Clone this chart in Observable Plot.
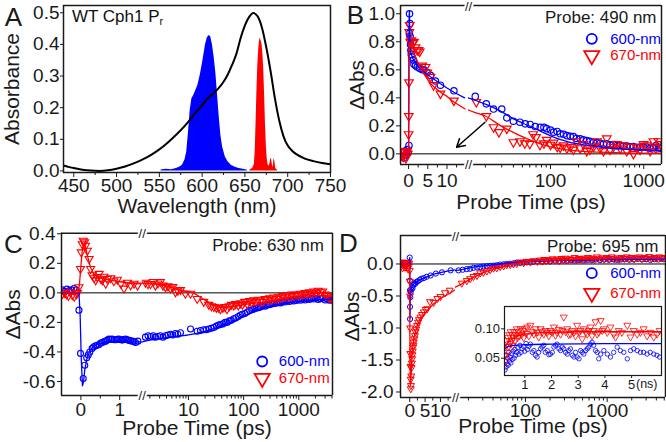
<!DOCTYPE html>
<html>
<head>
<meta charset="utf-8">
<script src="https://cdn.jsdelivr.net/npm/d3@7"></script>
<script src="https://cdn.jsdelivr.net/npm/@observablehq/plot@0.6"></script>
<style>
html,body{margin:0;padding:0;background:#fff;}
#root{position:relative;width:666px;height:442px;overflow:hidden;background:#fff;font-family:"Liberation Sans",Arial,Helvetica,sans-serif;color:#111;}
#root svg{position:absolute;}
.note{position:absolute;white-space:nowrap;line-height:17px;font-size:17px;color:#111;}
.note sub{font-size:11px;vertical-align:-3px;line-height:0;}
</style>
</head>
<body>
<div id="root"></div>
<script>
// ================= DATA =================
// Panel A: absorption spectrum of WT Cph1 Pr and the two pump spectra  [nm, value]
const absorbanceSpectrum = [[438,0.017],[445,0.012],[450,0.009],[460,0.004],[470,0.001],[480,0.0],[490,0.002],[500,0.007],[510,0.014],[520,0.024],[530,0.036],[540,0.05],[550,0.068],[560,0.09],[570,0.115],[580,0.143],[590,0.176],[600,0.208],[605,0.225],[610,0.238],[615,0.25],[620,0.264],[625,0.282],[630,0.305],[635,0.335],[640,0.37],[645,0.42],[650,0.46],[655,0.487],[660,0.499],[665,0.488],[670,0.452],[675,0.39],[680,0.315],[685,0.23],[690,0.16],[695,0.11],[700,0.08],[705,0.064],[710,0.053],[720,0.039],[730,0.031],[740,0.025],[750,0.021]];
const pump600Spectrum = [[552,0.003],[558,0.005],[564,0.004],[570,0.008],[574,0.012],[577,0.018],[580,0.035],[582,0.06],[584,0.12],[586,0.19],[588,0.228],[590,0.238],[592,0.25],[595,0.27],[598,0.305],[601,0.35],[604,0.4],[606,0.42],[608,0.428],[610,0.424],[612,0.4],[614,0.36],[616,0.31],[618,0.24],[620,0.17],[622,0.11],[624,0.075],[627,0.045],[630,0.03],[634,0.018],[638,0.012],[643,0.008],[648,0.005],[653,0.002]];
const pump670Spectrum = [[656,0.004],[659,0.008],[661,0.02],[662,0.06],[663,0.15],[664,0.25],[665,0.33],[666,0.38],[667,0.41],[668,0.42],[669,0.41],[670,0.4],[671,0.37],[672,0.32],[673,0.24],[674,0.15],[675,0.08],[676,0.04],[677,0.02],[678,0.015],[679,0.02],[680,0.035],[681,0.04],[682,0.02],[683,0.01],[684,0.04],[685,0.03],[686,0.008],[688,0.002]];
const aXTicks = [450,500,550,600,650,700,750];
const aYTicks = [0,0.1,0.2,0.3,0.4,0.5];

// Panel B: probe 490 nm  [ps, dAbs]
const bBlue600Early = [[-1.8,-0.02],[-1.5,0.01],[-1.2,-0.03],[-1.0,0.02],[-0.7,-0.01],[-0.5,0.0],[-0.3,0.03],[-0.1,0.01],[0.1,0.06],[0.2,0.86],[0.25,1.0],[0.35,0.93],[0.4,0.84],[0.5,0.78],[0.6,0.74],[0.7,0.71],[0.95,0.69],[1.2,0.67],[1.4,0.64],[1.8,0.63],[2.25,0.62],[2.9,0.61],[3.55,0.6],[4.0,0.6],[4.85,0.58],[5.7,0.56],[7.0,0.52],[8.3,0.49],[11.8,0.45]];
const bRed670Early = [[-1.9,-0.01],[-1.6,0.02],[-1.3,-0.02],[-1.0,0.01],[-0.7,-0.03],[-0.4,0.02],[-0.2,0.0],[0.0,0.14],[0.05,0.27],[0.1,0.51],[0.2,0.87],[0.3,0.92],[0.45,0.8],[0.7,0.81],[1.0,0.79],[1.4,0.8],[1.8,0.76],[2.25,0.74],[2.6,0.74],[2.9,0.73],[3.55,0.63],[4.4,0.62],[4.85,0.58],[5.7,0.55],[6.5,0.49],[8.3,0.43],[11.8,0.38]];
const bBlueFitEarly = [[-2.1,0],[0,0],[0.05,0.5],[0.15,0.98],[0.22,1.02],[0.3,0.88],[0.4,0.77],[0.6,0.72],[1.0,0.69],[1.4,0.667],[2,0.64],[3.1,0.607],[4,0.585],[5.7,0.55],[7,0.525],[8.3,0.5],[10,0.47],[11.8,0.44],[14.6,0.4]];
const bRedFitEarly = [[-2.1,0],[0.02,0],[0.07,0.3],[0.15,0.75],[0.25,0.8],[0.5,0.77],[1,0.73],[1.4,0.714],[2,0.68],[3.1,0.607],[4,0.57],[5.7,0.5],[7,0.47],[8.3,0.44],[10,0.41],[11.8,0.37],[14.7,0.32]];
const bBlue600Late = [[15.6,0.41],[20.5,0.357],[24.5,0.32],[30,0.32],[34,0.257],[40,0.233],[47,0.226],[53.5,0.214],[60.5,0.21],[68.5,0.195],[77.6,0.19],[85,0.19],[91,0.18],[100,0.17],[108,0.155],[118,0.16],[127,0.143],[138,0.14],[150,0.13],[163,0.125],[176,0.124],[190,0.11],[208,0.107],[225,0.1],[245,0.095],[265,0.09],[289,0.083],[315,0.08],[341,0.076],[370,0.07],[401,0.071],[435,0.065],[473,0.067],[515,0.06],[558,0.06],[605,0.055],[657,0.055],[715,0.05],[776,0.052],[845,0.045],[914,0.048],[995,0.05],[1077,0.048],[1170,0.04],[1270,0.045],[1350,0.06],[1437,0.045],[1500,0.04]];
const bRed670Late = [[16,0.37],[20.5,0.27],[24.5,0.19],[28,0.155],[34,0.18],[40,0.083],[47,0.09],[53,0.075],[60,0.072],[65,0.14],[70,0.12],[77,0.065],[85,0.075],[91,0.1],[100,0.065],[108,0.08],[118,0.05],[127,0.045],[138,0.06],[150,0.04],[163,0.05],[176,0.03],[190,0.09],[208,0.04],[225,0.07],[245,0.02],[265,0.03],[289,0.05],[315,0.09],[341,0.04],[370,0.02],[401,0.11],[435,0.03],[473,0.05],[515,0.07],[558,0.04],[605,0.06],[657,0.02],[715,0.05],[776,0.0],[845,0.05],[914,0.03],[995,0.07],[1077,0.06],[1170,0.02],[1270,0.09],[1350,0.04],[1437,0.09],[1500,0.07]];
const bBlueFitLate = [[13,0.4],[15.1,0.386],[20,0.355],[24.5,0.33],[30,0.3],[40,0.25],[52,0.215],[68.5,0.18],[85,0.15],[108,0.12],[140,0.095],[176,0.076],[250,0.06],[341,0.048],[500,0.038],[776,0.031],[1100,0.027],[1440,0.024],[1560,0.024]];
const bRedFitLate = [[13,0.315],[15.1,0.298],[20,0.27],[29.4,0.2],[38,0.16],[47,0.13],[60,0.1],[77.6,0.071],[100,0.05],[150,0.029],[220,0.018],[341,0.012],[600,0.007],[1000,0.005],[1560,0.005]];
const bArrow = [[19.9,0.226,12.5,0.047]];
const bYTicks = [0,0.2,0.4,0.6,0.8,1.0];
const bEarlyTicks = [0,5,10];
const bLateTicks = [100,1000];

// Panel C: probe 630 nm
const cBlue600Early = [[-0.48,0.02],[-0.42,0.01],[-0.36,0.025],[-0.3,0.015],[-0.24,0.02],[-0.18,0.03],[-0.12,0.02],[-0.05,-0.117],[-0.01,-0.41],[0.06,-0.58],[0.1,-0.49],[0.15,-0.44],[0.19,-0.42],[0.23,-0.4],[0.29,-0.376],[0.33,-0.365],[0.38,-0.358],[0.42,-0.355],[0.47,-0.35],[0.51,-0.34],[0.55,-0.336],[0.6,-0.33],[0.64,-0.327],[0.68,-0.32],[0.72,-0.313],[0.77,-0.315],[0.81,-0.313],[0.86,-0.318],[0.9,-0.318],[0.94,-0.315],[0.98,-0.313],[1.03,-0.318],[1.07,-0.32],[1.11,-0.316],[1.15,-0.313],[1.2,-0.318],[1.24,-0.322],[1.28,-0.325],[1.33,-0.327],[1.37,-0.33],[1.41,-0.336],[1.47,-0.327]];
const cRed670Early = [[-0.47,-0.005],[-0.42,0.0],[-0.37,-0.01],[-0.32,-0.02],[-0.27,0.005],[-0.22,-0.015],[-0.17,-0.025],[-0.12,-0.01],[-0.09,0.0],[-0.05,0.039],[-0.01,0.163],[0.01,0.275],[0.035,0.33],[0.06,0.354],[0.095,0.343],[0.12,0.32],[0.165,0.286],[0.21,0.23],[0.25,0.163],[0.29,0.12],[0.34,0.1],[0.38,0.086],[0.42,0.108],[0.47,0.13],[0.51,0.097],[0.55,0.086],[0.59,0.11],[0.64,0.063],[0.68,0.095],[0.77,0.1],[0.85,0.08],[0.94,0.09],[1.03,0.063],[1.11,0.03],[1.2,0.07],[1.28,0.052],[1.37,0.063],[1.46,0.05]];
const cBlueFitEarly = [[-0.5,0],[-0.05,0],[-0.02,-0.15],[0.01,-0.45],[0.04,-0.63],[0.07,-0.6],[0.1,-0.52],[0.15,-0.45],[0.22,-0.4],[0.3,-0.37],[0.45,-0.345],[0.7,-0.33],[1.0,-0.325],[1.3,-0.33],[1.6,-0.333]];
const cRedFitEarly = [[-0.5,0],[-0.08,0],[-0.04,0.05],[0,0.18],[0.04,0.3],[0.08,0.335],[0.12,0.31],[0.18,0.24],[0.25,0.17],[0.35,0.12],[0.5,0.1],[0.7,0.09],[1.0,0.075],[1.3,0.065],[1.6,0.06]];
const cBlue600Late = [[1.66,-0.3],[1.85,-0.29],[2.05,-0.295],[2.3,-0.29],[2.52,-0.3],[2.8,-0.295],[3.1,-0.29],[3.45,-0.3],[3.83,-0.29],[4.25,-0.285],[4.72,-0.28],[5.2,-0.285],[5.8,-0.275],[6.4,-0.28],[7.16,-0.27],[10.9,-0.245],[14.4,-0.26],[16.5,-0.255],[18.9,-0.25],[21,-0.25],[23.3,-0.245],[26,-0.24],[28.8,-0.235],[32,-0.225],[35,-0.218],[38,-0.215],[42,-0.21],[46,-0.2],[50,-0.2],[55,-0.19],[60,-0.185],[66,-0.175],[72,-0.17],[80,-0.16],[87.6,-0.15],[95,-0.145],[105,-0.14],[116,-0.13],[128,-0.12],[140,-0.115],[153,-0.11],[168,-0.105],[185,-0.1],[202,-0.095],[222,-0.088],[245,-0.09],[267,-0.083],[295,-0.08],[325,-0.075],[353,-0.072],[390,-0.07],[430,-0.065],[466,-0.068],[510,-0.06],[560,-0.062],[616,-0.055],[680,-0.058],[750,-0.05],[813,-0.055],[900,-0.052],[980,-0.045],[1073,-0.05],[1180,-0.043],[1300,-0.048],[1418,-0.04],[1560,-0.045],[1700,-0.038],[1873,-0.042],[2050,-0.036],[2250,-0.045],[2472,-0.04],[2700,-0.035],[3000,-0.048],[3270,-0.042],[3550,-0.05],[3760,-0.045],[4000,-0.05]];
const cRed670Late = [[1.66,0.07],[1.85,0.06],[2.05,0.06],[2.3,0.075],[2.52,0.05],[2.8,0.065],[3.1,0.075],[3.45,0.05],[3.83,0.04],[4.25,0.045],[4.72,0.03],[5.2,0.04],[5.8,0.005],[6.4,0.015],[7.16,0.02],[8.8,-0.005],[10.9,-0.005],[14.4,-0.04],[18.9,-0.06],[23.3,-0.08],[26,-0.09],[28.8,-0.095],[32,-0.1],[35,-0.1],[38,-0.11],[42,-0.1],[46,-0.095],[50,-0.11],[55,-0.09],[60,-0.08],[66,-0.085],[72,-0.075],[80,-0.085],[87.6,-0.07],[95,-0.08],[105,-0.06],[116,-0.075],[128,-0.055],[140,-0.065],[153,-0.05],[168,-0.06],[185,-0.045],[202,-0.05],[222,-0.06],[245,-0.04],[267,-0.045],[295,-0.035],[325,-0.05],[353,-0.03],[390,-0.04],[430,-0.025],[466,-0.035],[510,-0.02],[560,-0.03],[616,-0.015],[680,-0.025],[750,-0.01],[813,-0.02],[900,-0.01],[980,-0.015],[1073,-0.005],[1180,-0.01],[1300,0.0],[1418,-0.01],[1560,0.005],[1700,-0.005],[1873,0.01],[2050,0.0],[2250,0.015],[2472,0.005],[2700,0.01],[3000,-0.01],[3270,-0.02],[3550,-0.03],[3760,-0.035],[4000,-0.04]];
const cBlueFitLate = [[1.4,-0.333],[2,-0.32],[3,-0.31],[5,-0.3],[10,-0.285],[20,-0.26],[30,-0.24],[50,-0.21],[66,-0.19],[100,-0.16],[153,-0.125],[267,-0.095],[466,-0.075],[1073,-0.056],[2000,-0.048],[4100,-0.043]];
const cRedFitLate = [[1.4,0.066],[3,0.055],[5,0.035],[8,0.015],[12,0.0],[20,-0.05],[30,-0.085],[38,-0.1],[60,-0.095],[100,-0.08],[267,-0.06],[600,-0.035],[1073,-0.02],[1900,-0.005],[2500,0.0],[4100,-0.01]];
const cYTicks = [-0.6,-0.4,-0.2,0,0.2,0.4];
const cEarlyTicks = [0,1];
const cLateTicks = [10,100,1000];

// Panel D: probe 695 nm
const dBlue600Early = [[-2.8,0.01],[-2.2,-0.02],[-1.6,0.01],[-1.0,-0.01],[-0.4,0.02],[0.0,0.1],[0.05,-0.26],[0.08,-0.41],[0.1,-0.67],[0.12,-0.86],[0.2,-0.52],[0.3,-0.44],[0.5,-0.4],[0.7,-0.36],[0.9,-0.38],[1.2,-0.33],[1.5,-0.3],[1.8,-0.31],[2.2,-0.28],[2.6,-0.27],[3.2,-0.25],[3.8,-0.23],[4.6,-0.22],[5.5,-0.2],[6.8,-0.18],[8.5,-0.15],[10.5,-0.13],[13.3,-0.1]];
const dRed670Early = [[-2.9,0.02],[-2.7,-0.03],[-2.5,0.0],[-2.3,-0.06],[-2.1,0.03],[-1.9,-0.02],[-1.7,0.01],[-1.5,-0.05],[-1.3,0.02],[-1.1,-0.03],[-0.9,0.0],[-0.7,-0.07],[-0.5,0.02],[-0.3,-0.04],[-0.15,0.01],[0.0,-0.1],[0.05,-0.27],[0.1,-0.5],[0.15,-1.0],[0.2,-1.4],[0.25,-1.6],[0.3,-1.8],[0.35,-1.95],[0.4,-1.9],[0.5,-1.75],[0.6,-1.62],[0.7,-1.55],[0.8,-1.48],[0.9,-1.42],[1.0,-1.36],[1.1,-1.3],[1.2,-1.27],[1.3,-1.22],[1.5,-1.17],[1.7,-1.12],[1.9,-1.06],[2.1,-1.02],[2.4,-0.96],[2.7,-0.91],[3.0,-0.87],[3.5,-0.83],[4.0,-0.79],[4.6,-0.75],[5.2,-0.71],[5.7,-0.7],[6.6,-0.59],[7.8,-0.6],[9,-0.54],[10,-0.51],[11.5,-0.45],[13,-0.41]];
const dBlueFitEarly = [[-3,0],[-0.05,0],[0.0,0.1],[0.06,-0.5],[0.1,-0.85],[0.15,-0.6],[0.25,-0.45],[0.5,-0.38],[0.8,-0.35],[1.5,-0.3],[2.4,-0.27],[3.5,-0.24],[5.7,-0.2],[7.8,-0.16],[10,-0.135],[12.2,-0.11],[15,-0.09]];
const dRedFitEarly = [[-3,0],[-0.05,0],[0.0,-0.5],[0.1,-1.5],[0.2,-1.9],[0.3,-1.85],[0.5,-1.69],[0.77,-1.38],[1.3,-1.17],[2.4,-0.96],[3.5,-0.85],[5.7,-0.73],[7.8,-0.62],[10,-0.54],[12.2,-0.48],[15,-0.4]];
const dBlue600Late = [[15.1,-0.1],[17,-0.09],[19.1,-0.08],[21,-0.075],[23.1,-0.06],[25.5,-0.055],[27.9,-0.05],[30.5,-0.04],[33.6,-0.035],[37,-0.03],[40.6,-0.025],[44.5,-0.02],[49,-0.01],[54,-0.005],[59,0.0],[65,0.005],[71.3,0.01],[78,0.02],[86,0.015],[95,0.025],[104,0.03],[115,0.03],[125,0.035],[140,0.04],[160,0.035],[180,0.045],[200,0.04],[230,0.05],[260,0.045],[290,0.055],[320,0.05],[360,0.06],[400,0.055],[450,0.06],[513,0.055],[580,0.065],[650,0.06],[730,0.07],[820,0.06],[920,0.07],[1050,0.065],[1180,0.075],[1313,0.065],[1480,0.07],[1660,0.075],[1870,0.065],[2100,0.07],[2370,0.08],[2660,0.07],[3000,0.075],[3360,0.065],[3780,0.075],[4250,0.07],[4880,0.075]];
const dRed670Late = [[16.6,-0.3],[19.1,-0.26],[21,-0.23],[23.1,-0.195],[25.5,-0.18],[27.9,-0.14],[30.5,-0.13],[33.6,-0.11],[37,-0.09],[40.6,-0.065],[44.5,-0.06],[49,-0.04],[54,-0.03],[59,-0.013],[65,-0.01],[71.3,0.0],[78,0.005],[86,0.03],[95,0.02],[104,0.04],[115,0.03],[125,0.05],[140,0.04],[150,0.06],[160,0.045],[170,0.07],[180,0.05],[190,0.065],[200,0.055],[215,0.08],[230,0.06],[245,0.075],[260,0.05],[275,0.085],[290,0.065],[310,0.09],[330,0.06],[350,0.08],[375,0.07],[400,0.1],[425,0.065],[450,0.085],[480,0.075],[513,0.09],[545,0.07],[580,0.1],[620,0.08],[660,0.09],[700,0.07],[750,0.11],[800,0.08],[860,0.095],[920,0.075],[990,0.1],[1060,0.085],[1140,0.11],[1220,0.08],[1313,0.095],[1400,0.075],[1500,0.1],[1620,0.085],[1750,0.11],[1870,0.09],[2000,0.1],[2150,0.08],[2300,0.095],[2470,0.11],[2660,0.085],[2850,0.1],[3050,0.09],[3280,0.115],[3500,0.085],[3780,0.1],[4050,0.09],[4350,0.11],[4650,0.095],[5000,0.1]];
const dBlueFitLate = [[13,-0.105],[15.1,-0.095],[19.1,-0.07],[23.1,-0.05],[27.9,-0.035],[33.6,-0.023],[40.6,-0.012],[49,0.0],[59,0.013],[71.3,0.02],[86,0.028],[125,0.04],[200,0.05],[320,0.055],[513,0.06],[820,0.065],[1313,0.07],[2100,0.072],[3360,0.074],[5300,0.075]];
const dRedFitLate = [[13,-0.38],[16.6,-0.31],[23.1,-0.21],[33.6,-0.117],[49,-0.055],[71.3,0.0],[104,0.035],[150,0.055],[320,0.065],[513,0.075],[820,0.08],[1313,0.085],[2100,0.088],[3360,0.09],[5300,0.09]];
const dYTicks = [-2.0,-1.5,-1.0,-0.5,0.0];
const dEarlyTicks = [0,5,10];
const dLateTicks = [100,1000];

// Panel D inset  [ns, dAbs]
const insetRed670 = [[0.26,0.055],[0.28,0.07],[0.3,0.045],[0.32,0.08],[0.35,0.06],[0.37,0.085],[0.4,0.07],[0.42,0.09],[0.45,0.075],[0.47,0.095],[0.5,0.08],[0.53,0.09],[0.55,0.072],[0.58,0.085],[0.6,0.095],[0.63,0.08],[0.66,0.09],[0.7,0.1],[0.73,0.085],[0.76,0.095],[0.8,0.088],[0.84,0.1],[0.88,0.09],[0.92,0.097],[0.96,0.085],[1.0,0.1],[1.05,0.092],[1.09,0.103],[1.15,0.088],[1.21,0.106],[1.28,0.095],[1.34,0.091],[1.4,0.1],[1.46,0.094],[1.52,0.086],[1.59,0.1],[1.65,0.095],[1.71,0.091],[1.77,0.097],[1.84,0.094],[1.9,0.088],[1.96,0.097],[2.03,0.094],[2.09,0.103],[2.15,0.089],[2.21,0.094],[2.28,0.099],[2.34,0.091],[2.4,0.097],[2.46,0.12],[2.53,0.095],[2.59,0.1],[2.65,0.09],[2.71,0.091],[2.78,0.097],[2.84,0.094],[2.9,0.088],[2.96,0.106],[3.03,0.094],[3.09,0.097],[3.15,0.083],[3.21,0.1],[3.28,0.094],[3.34,0.091],[3.4,0.097],[3.46,0.103],[3.52,0.088],[3.58,0.097],[3.65,0.112],[3.71,0.091],[3.77,0.094],[3.84,0.114],[3.9,0.097],[3.96,0.1],[4.09,0.094],[4.21,0.103],[4.33,0.091],[4.4,0.086],[4.52,0.097],[4.64,0.094],[4.84,0.106],[4.96,0.086],[5.08,0.097],[5.21,0.091],[5.33,0.094],[5.45,0.1],[5.58,0.088],[5.7,0.094],[5.83,0.086],[5.95,0.091],[6.05,0.097]];
const insetBlue600 = [[0.26,0.03],[0.28,0.045],[0.3,0.035],[0.32,0.055],[0.34,0.04],[0.36,0.05],[0.38,0.038],[0.4,0.06],[0.43,0.045],[0.45,0.052],[0.48,0.042],[0.5,0.058],[0.53,0.048],[0.56,0.062],[0.6,0.05],[0.63,0.065],[0.66,0.055],[0.7,0.06],[0.74,0.068],[0.78,0.057],[0.82,0.072],[0.86,0.06],[0.9,0.066],[0.95,0.07],[1.0,0.062],[1.05,0.075],[1.1,0.065],[1.15,0.07],[1.21,0.074],[1.28,0.06],[1.34,0.063],[1.4,0.055],[1.46,0.052],[1.52,0.06],[1.59,0.066],[1.65,0.069],[1.71,0.072],[1.77,0.06],[1.84,0.063],[1.9,0.056],[1.96,0.057],[2.03,0.06],[2.09,0.069],[2.15,0.072],[2.21,0.074],[2.28,0.066],[2.34,0.063],[2.4,0.069],[2.46,0.066],[2.53,0.06],[2.59,0.057],[2.65,0.063],[2.71,0.066],[2.78,0.055],[2.84,0.052],[2.9,0.06],[2.96,0.052],[3.03,0.049],[3.09,0.063],[3.15,0.06],[3.21,0.057],[3.28,0.063],[3.34,0.066],[3.4,0.069],[3.46,0.074],[3.52,0.077],[3.58,0.072],[3.65,0.063],[3.71,0.06],[3.77,0.049],[3.84,0.057],[3.96,0.063],[4.09,0.057],[4.21,0.052],[4.33,0.06],[4.46,0.069],[4.58,0.063],[4.71,0.06],[4.84,0.049],[4.96,0.063],[5.08,0.066],[5.21,0.063],[5.33,0.06],[5.45,0.06],[5.58,0.057],[5.7,0.06],[5.83,0.057],[5.95,0.055],[6.05,0.052]];
const insetRedFit = [[0.24,0.068],[0.4,0.078],[0.6,0.085],[0.8,0.089],[1.0,0.091],[1.5,0.093],[2,0.094],[3,0.095],[4,0.095],[5,0.095],[6.12,0.095]];
const insetBlueFit = [[0.24,0.066],[0.4,0.07],[0.6,0.072],[1.0,0.073],[2,0.074],[4,0.075],[6.12,0.075]];
const insetXTicks = [1,2,3,4,5];
const insetYTicks = [0.05,0.10];

// ================= DRAWING =================
const FONT = '"Liberation Sans", Arial, Helvetica, sans-serif';
const BLUE = "#0000ff", RED = "#ff0000", INK = "#1a1a1a";
const X = d => d[0], Y = d => d[1], T = d => d;
const root = document.getElementById("root");
const W = 333, H = 221;
const MID = {textAnchor: "middle", lineAnchor: "middle"};

function baseStyle(fs = "19px") {
  return {background: "transparent", overflow: "visible", fontFamily: FONT, fontSize: fs, color: INK};
}
function place(svg, left, top) {
  svg.style.position = "absolute";
  svg.style.left = left + "px";
  svg.style.top = top + "px";
  root.appendChild(svg);
}
function logMinor(lo, hi) {
  const out = [];
  for (let e = 0; e <= 4; e++) for (let m = 2; m <= 9; m++) {
    const v = m * Math.pow(10, e);
    if (v > lo && v < hi) out.push(v);
  }
  return out;
}
function seriesMarks(s, r, sw) {
  return [
    Plot.dot(s.blue, {x: X, y: Y, r: r, stroke: BLUE, strokeWidth: sw, fill: "none", clip: true}),
    Plot.dot(s.red, {x: X, y: Y, r: r, symbol: "triangle", rotate: 180, stroke: RED, strokeWidth: sw, fill: "none", clip: true}),
    Plot.line(s.blueFit, {x: X, y: Y, stroke: BLUE, strokeWidth: 1.3, curve: s.curve, clip: true}),
    Plot.line(s.redFit, {x: X, y: Y, stroke: RED, strokeWidth: 1.3, curve: s.curve, clip: true})
  ];
}
function legendMarks(anchor, cx, cy1, cy2, tx) {
  return [
    Plot.dot([0], {frameAnchor: anchor, dx: cx, dy: cy1, r: 5, stroke: BLUE, strokeWidth: 1.8, fill: "none"}),
    Plot.dot([0], {frameAnchor: anchor, dx: cx, dy: cy2, r: 5.6, symbol: "triangle", rotate: 180, stroke: RED, strokeWidth: 1.8, fill: "none"}),
    Plot.text(["600-nm"], {text: T, frameAnchor: anchor, dx: tx, dy: cy1, textAnchor: "start", lineAnchor: "middle", fill: BLUE, fontSize: 15}),
    Plot.text(["670-nm"], {text: T, frameAnchor: anchor, dx: tx, dy: cy2, textAnchor: "start", lineAnchor: "middle", fill: RED, fontSize: 15})
  ];
}

// ---------- Panel A ----------
{
  const fr = {l: 63, r: 330, t: 5, b: 172};
  const A = Plot.plot({
    width: W, height: H,
    marginLeft: fr.l, marginRight: W - fr.r, marginTop: fr.t, marginBottom: H - fr.b,
    style: baseStyle(),
    x: {domain: [438, 750], label: null},
    y: {domain: [-0.005, 0.523], label: null},
    marks: [
      Plot.areaY(pump600Spectrum, {x: X, y: Y, fill: BLUE, clip: true}),
      Plot.areaY(pump670Spectrum, {x: X, y: Y, fill: RED, clip: true}),
      Plot.line(absorbanceSpectrum, {x: X, y: Y, stroke: "#000", strokeWidth: 2, curve: "monotone-x", clip: true}),
      Plot.axisX({ticks: aXTicks.map(v => v + 25).filter(v => v < 750), tickSize: 3, tickFormat: () => "", label: null}),
      Plot.axisX({ticks: aXTicks, tickSize: 5, tickPadding: 1, tickFormat: d => String(d), label: null}),
      Plot.axisY({ticks: aYTicks, tickSize: 3, tickPadding: 1, tickFormat: d => d.toFixed(1), label: null}),
      Plot.frame({stroke: INK, strokeWidth: 1.5}),
      Plot.text(["Absorbance"], {text: T, frameAnchor: "left", rotate: -90, dx: -51, fontSize: 21, ...MID}),
      Plot.text(["Wavelength (nm)"], {text: T, frameAnchor: "bottom", dy: 34, fontSize: 21, ...MID}),
      Plot.text(["A"], {text: T, frameAnchor: "top-left", dx: -50, dy: 12.5, fontSize: 26, ...MID})
    ]
  });
  place(A, 0, 0);
  const note = document.createElement("div");
  note.className = "note";
  note.style.left = "72px"; note.style.top = "8px";
  note.innerHTML = "WT Cph1 P<sub>r</sub>";
  root.appendChild(note);
}

// ---------- broken-axis panels ----------
function brokenPanel(p) {
  const ml = p.frame.l - p.box.x, mr = p.box.x + W - p.frame.r;
  const mt = p.frame.t - p.box.y, mb = p.box.y + H - p.frame.b;
  const bx = p.breakX - p.box.x;
  const frameStroke = {stroke: INK, strokeWidth: 1.5};
  const right = Plot.plot({
    width: W, height: H, marginLeft: bx, marginRight: mr, marginTop: mt, marginBottom: mb,
    style: baseStyle(),
    x: {type: "log", domain: p.logDomain, label: null},
    y: {domain: p.yDomain, label: null, axis: null},
    marks: [
      Plot.ruleY([0], {stroke: "#000", strokeWidth: 1}),
      ...seriesMarks(p.late, p.r, p.sw),
      Plot.axisX({ticks: logMinor(p.logDomain[0], p.logDomain[1]).filter(v => !p.logTicks.includes(v)), tickSize: 3.5, tickFormat: () => "", label: null}),
      Plot.axisX({ticks: p.logTicks, tickSize: 5, tickPadding: p.xPad, tickFormat: d => String(d), label: null}),
      Plot.ruleY(p.yDomain, frameStroke),
      Plot.ruleX([p.logDomain[1]], frameStroke)
    ]
  });
  const left = Plot.plot({
    width: W, height: H, marginLeft: ml, marginRight: W - bx, marginTop: mt, marginBottom: mb,
    style: baseStyle(),
    x: {domain: p.linDomain, label: null},
    y: {domain: p.yDomain, label: null},
    marks: [
      Plot.ruleY([0], {stroke: "#000", strokeWidth: 1}),
      ...seriesMarks(p.early, p.r, p.sw),
      Plot.axisX({ticks: p.linMinor, tickSize: 3.5, tickFormat: () => "", label: null}),
      Plot.axisX({ticks: p.linTicks, tickSize: 5, tickPadding: p.xPad, tickFormat: d => String(d), label: null}),
      Plot.axisY({ticks: p.yTicks, tickSize: 4, tickPadding: p.yPad, tickFormat: d => d.toFixed(1), label: null}),
      Plot.ruleY(p.yDomain, frameStroke),
      Plot.ruleX([p.linDomain[0]], frameStroke),
      ...(p.extra || []),
      Plot.text(["//"], {text: T, frameAnchor: "top-right", ...MID, dy: 1, fontSize: 13, fill: INK, stroke: "white", strokeWidth: 4, paintOrder: "stroke"}),
      Plot.text(["//"], {text: T, frameAnchor: "bottom-right", ...MID, dy: 0, fontSize: 13, fill: INK, stroke: "white", strokeWidth: 4, paintOrder: "stroke"})
    ]
  });
  place(right, p.box.x, p.box.y);
  place(left, p.box.x, p.box.y);
  if (p.inset) place(p.inset, p.box.x, p.box.y);
  const over = Plot.plot({
    width: W, height: H, marginLeft: ml, marginRight: mr, marginTop: mt, marginBottom: mb,
    style: baseStyle(),
    marks: [
      Plot.text([p.letter], {text: T, frameAnchor: "top-left", dx: p.letterPos[0], dy: p.letterPos[1], fontSize: 26, ...MID}),
      Plot.text(["\u0394Abs"], {text: T, frameAnchor: "left", rotate: -90, dx: p.yLabelDx, fontSize: 21, ...MID}),
      Plot.text(["Probe Time (ps)"], {text: T, frameAnchor: "bottom", dy: p.xLabelDy, fontSize: 21, ...MID}),
      Plot.text([p.probe], {text: T, frameAnchor: "top-right", textAnchor: "end", lineAnchor: "middle", dx: p.probePos[0], dy: p.probePos[1], fontSize: 17}),
      ...legendMarks(p.legend.anchor, p.legend.cx, p.legend.cy1, p.legend.cy2, p.legend.tx)
    ]
  });
  place(over, p.box.x, p.box.y);
}

// Panel B
brokenPanel({
  letter: "B", probe: "Probe: 490 nm",
  box: {x: 333, y: 0}, frame: {l: 400, r: 661, t: 5, b: 164}, breakX: 468,
  linDomain: [-2.1, 15.6], logDomain: [13.2, 1550], yDomain: [-0.076, 1.059],
  linTicks: bEarlyTicks, linMinor: [2.5, 7.5, 12.5], logTicks: bLateTicks, yTicks: bYTicks,
  xPad: 4, yPad: 1.5, r: 3.2, sw: 1.2,
  early: {blue: bBlue600Early, red: bRed670Early, blueFit: bBlueFitEarly, redFit: bRedFitEarly, curve: "linear"},
  late: {blue: bBlue600Late, red: bRed670Late, blueFit: bBlueFitLate, redFit: bRedFitLate, curve: "monotone-x"},
  extra: [Plot.arrow(bArrow, {x1: d => d[0], y1: d => d[1], x2: d => d[2], y2: d => d[3], stroke: "#000", strokeWidth: 1.5, headLength: 9})],
  letterPos: [-45, 10], yLabelDx: -43, xLabelDy: 38, probePos: [-5, 12.5],
  legend: {anchor: "top-right", cx: -69.7, cy1: 33.3, cy2: 50, tx: -51.3}
});

// Panel C
brokenPanel({
  letter: "C", probe: "Probe: 630 nm",
  box: {x: 0, y: 221}, frame: {l: 61, r: 332, t: 232.7, b: 395}, breakX: 141.7,
  linDomain: [-0.5, 1.58], logDomain: [1.45, 4080], yDomain: [-0.695, 0.404],
  linTicks: cEarlyTicks, linMinor: [0.5], logTicks: cLateTicks, yTicks: cYTicks,
  xPad: 1.5, yPad: 2, r: 3, sw: 1.1,
  early: {blue: cBlue600Early, red: cRed670Early, blueFit: cBlueFitEarly, redFit: cRedFitEarly, curve: "linear"},
  late: {blue: cBlue600Late, red: cRed670Late, blueFit: cBlueFitLate, redFit: cRedFitLate, curve: "monotone-x"},
  letterPos: [-48, 11], yLabelDx: -48, xLabelDy: 33, probePos: [-8.7, 12.3],
  legend: {anchor: "bottom-right", cx: -70.3, cy1: -34, cy2: -17.3, tx: -53.7}
});

// Panel D (with inset)
const insetD = Plot.plot({
  width: W, height: H, marginLeft: 171, marginRight: 5, marginTop: 85, marginBottom: 67,
  style: baseStyle("13px"),
  x: {domain: [0.24, 6.12], label: null},
  y: {domain: [0.0206, 0.138], label: null},
  marks: [
    Plot.frame({fill: "white"}),
    Plot.dot(insetBlue600, {x: X, y: Y, r: 2.2, stroke: BLUE, strokeWidth: 0.8, fill: "none", clip: true}),
    Plot.dot(insetRed670, {x: X, y: Y, r: 2.6, symbol: "triangle", rotate: 180, stroke: RED, strokeWidth: 0.8, fill: "none", clip: true}),
    Plot.line(insetBlueFit, {x: X, y: Y, stroke: BLUE, strokeWidth: 1.3, curve: "monotone-x", clip: true}),
    Plot.line(insetRedFit, {x: X, y: Y, stroke: RED, strokeWidth: 1.3, curve: "monotone-x", clip: true}),
    Plot.axisX({ticks: insetXTicks, tickSize: 3, tickPadding: 1, tickFormat: d => String(d), label: null}),
    Plot.axisY({ticks: insetYTicks, tickSize: 3, tickPadding: 1.5, tickFormat: d => d.toFixed(2), label: null}),
    Plot.frame({stroke: INK, strokeWidth: 1.2}),
    Plot.text(["(ns)"], {text: T, frameAnchor: "bottom-right", textAnchor: "end", lineAnchor: "top", dx: -4, dy: 4, fontSize: 12.5})
  ]
});
brokenPanel({
  letter: "D", probe: "Probe: 695 nm",
  box: {x: 333, y: 221}, frame: {l: 400, r: 665, t: 235, b: 397}, breakX: 455,
  linDomain: [-3.0, 14.9], logDomain: [13.9, 5180], yDomain: [-2.086, 0.445],
  linTicks: dEarlyTicks, linMinor: [2.5, 7.5, 12.5], logTicks: dLateTicks, yTicks: dYTicks,
  xPad: 1, yPad: 3, r: 2.6, sw: 1,
  early: {blue: dBlue600Early, red: dRed670Early, blueFit: dBlueFitEarly, redFit: dRedFitEarly, curve: "linear"},
  late: {blue: dBlue600Late, red: dRed670Late, blueFit: dBlueFitLate, redFit: dRedFitLate, curve: "monotone-x"},
  inset: insetD,
  letterPos: [-52, 8], yLabelDx: -48, xLabelDy: 29, probePos: [-7, 11],
  legend: {anchor: "top-right", cx: -73.7, cy1: 37.7, cy2: 57.7, tx: -55.3}
});
</script>
</body>
</html>
